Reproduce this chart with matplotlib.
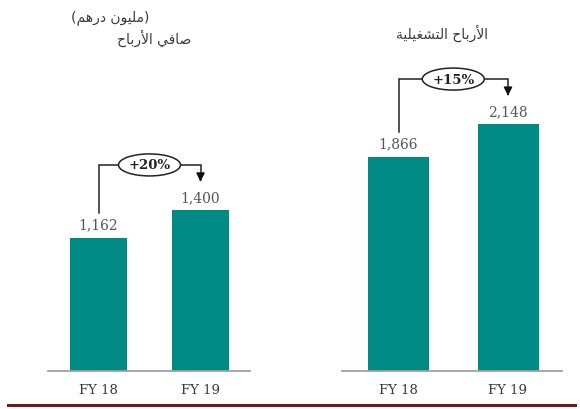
import matplotlib
matplotlib.use("Agg")
import matplotlib.pyplot as plt
from matplotlib.patches import Ellipse
from matplotlib.lines import Line2D

# ---- data ----
categories = ["FY 18", "FY 19"]
net_profit = [1162, 1400]
operating_profit = [1866, 2148]

# Arabic titles (presentation forms, visual order, so they render shaped)
unit_label = "(\uFEE2\uFEEB\uFEAD\uFEA9 \uFEE5\uFEEE\uFEF4\uFEE0\uFEE3)"      # (مليون درهم)
net_title = "\uFEA1\uFE8E\uFE91\uFEAD\uFEF7\uFE8D \uFEF2\uFED3\uFE8E\uFEBB"     # صافي الأرباح
op_title = ("\uFE94\uFEF4\uFEE0\uFEF4\uFED0\uFEB8\uFE98\uFEDF\uFE8D "
            "\uFEA1\uFE8E\uFE91\uFEAD\uFEF7\uFE8D")                              # الأرباح التشغيلية

BAR = "#008a85"
TXT = "#3a3a3a"
W, H = 580, 410
PX = 0.1148  # pixels per unit
ymax = 352 / PX

fig = plt.figure(figsize=(5.8, 4.1), dpi=100)

def make_axes(x0, x1, c0, c1, values, barw_px):
    sep = c1 - c0
    ax = fig.add_axes([x0 / W, (H - 372) / H, (x1 - x0) / W, 352 / H])
    ax.set_xlim(-(c0 - x0) / sep, -(c0 - x0) / sep + (x1 - x0) / sep)
    ax.set_ylim(0, ymax)
    pos = [0, 1]
    ax.bar(pos, values, width=barw_px / sep, color=BAR, zorder=2)
    for p, v in zip(pos, values):
        ax.text(p, v + 55, f"{v:,}", ha="center", va="bottom",
                fontsize=10, family="DejaVu Serif", color="#555555")
    ax.set_xticks(pos)
    ax.set_xticklabels(categories, family="DejaVu Serif", fontsize=9.5, color=TXT)
    ax.tick_params(axis="x", length=0, pad=9)
    ax.set_yticks([])
    for s in ["top", "left", "right"]:
        ax.spines[s].set_visible(False)
    ax.spines["bottom"].set_color("#a0a0a0")
    ax.spines["bottom"].set_linewidth(1.3)

    # growth connector
    top = values[1] + 395
    start = values[0] + 215
    tip = values[1] + 225
    pct = round((values[1] / values[0] - 1) * 100)
    ax.plot([0, 0, 1, 1], [start, top, top, tip + 60], color="#222222", lw=1.1,
            zorder=3, solid_joinstyle="miter")
    ax.annotate("", xy=(1, tip), xytext=(1, tip + 70),
                arrowprops=dict(arrowstyle="-|>,head_width=0.25,head_length=0.5",
                                color="#111111", lw=1.1))
    ell = Ellipse((0.5, top), width=62 / sep, height=22 / PX, facecolor="white",
                  edgecolor="#222222", lw=1.1, zorder=4)
    ax.add_patch(ell)
    ax.text(0.5, top, f"+{pct}%", ha="center", va="center", fontsize=9.5,
            fontweight="bold", family="DejaVu Serif", color="#222222", zorder=5)
    return ax

make_axes(48, 250, 98.5, 200.5, net_profit, 57)
make_axes(342, 562, 398.5, 508, operating_profit, 61)

fig.text(110 / W, 1 - 18 / H, unit_label, ha="center", va="center",
         fontsize=10, family="DejaVu Sans", color=TXT)
fig.text(154 / W, 1 - 38 / H, net_title, ha="center", va="center",
         fontsize=10, family="DejaVu Sans", color=TXT)
fig.text(442 / W, 1 - 33 / H, op_title, ha="center", va="center",
         fontsize=10, family="DejaVu Sans", color=TXT)

fig.add_artist(Line2D([8 / W, 575 / W], [1 - 406 / H, 1 - 406 / H],
                      transform=fig.transFigure, color="#6b1d1f", lw=2.2))

fig.savefig("out.png", dpi=100)
